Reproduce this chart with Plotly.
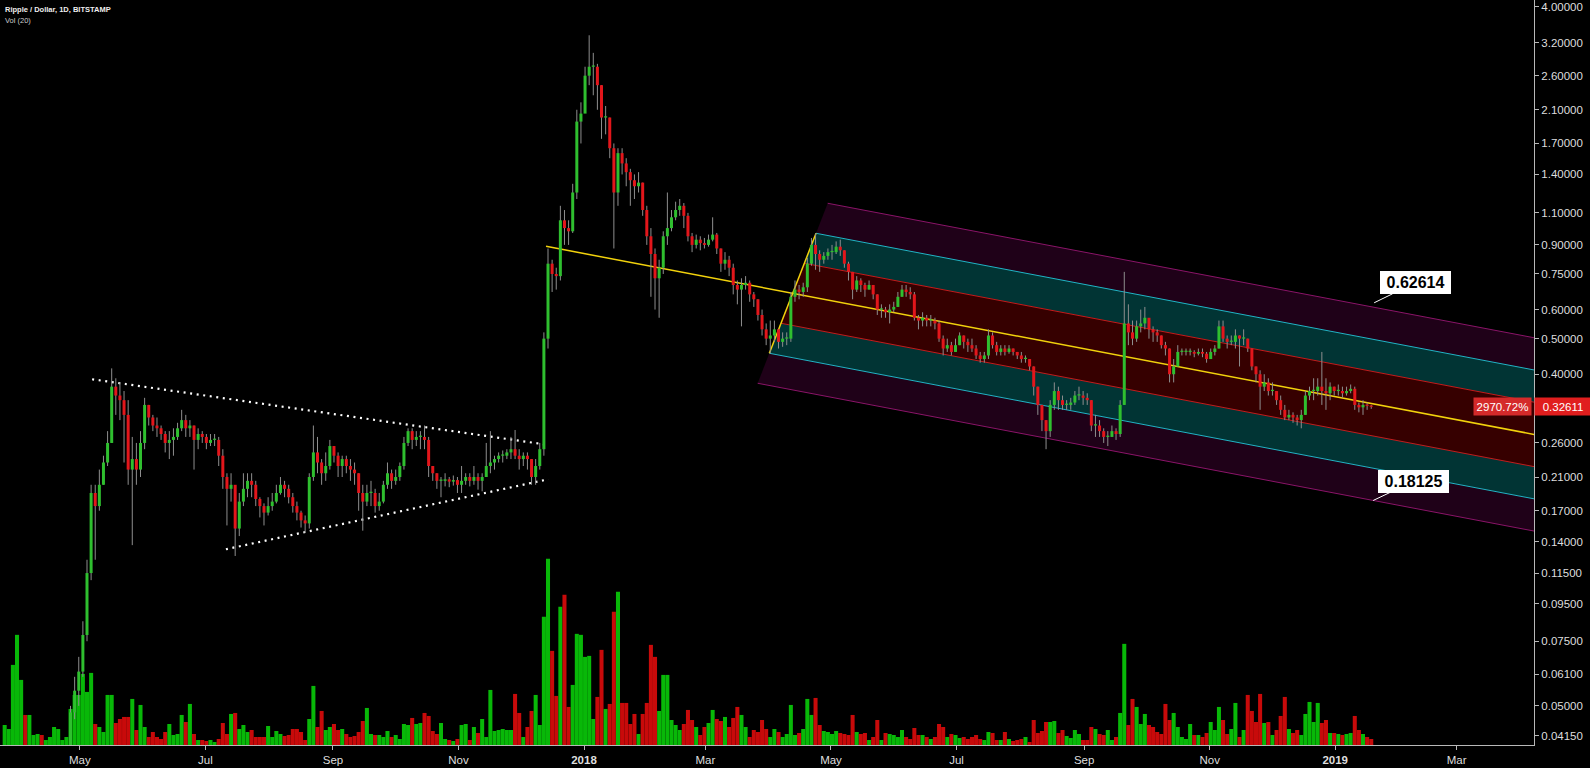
import numpy as np
import pandas as pd
import plotly.graph_objects as go

# ---------------- data (2-day bars) ----------------
bar_start = "2017-03-25"
first_open = 0.01062

close = [
    0.0115, 0.0135, 0.017, 0.021, 0.03, 0.028, 0.029, 0.031, 0.031, 0.030, 0.032, 0.033, 0.034, 0.034, 0.034, 0.036,
    0.048, 0.055, 0.062, 0.078, 0.115,
    0.19, 0.175, 0.20, 0.23, 0.26, 0.37, 0.35, 0.34, 0.31, 0.22,
    0.235, 0.22, 0.26, 0.33, 0.305, 0.29, 0.285, 0.275, 0.26, 0.265,
    0.27, 0.285, 0.30, 0.285, 0.29, 0.265, 0.275, 0.27, 0.26, 0.265,
    0.265, 0.24, 0.21, 0.195, 0.20, 0.152, 0.18, 0.195, 0.205, 0.20,
    0.183, 0.175, 0.168, 0.175, 0.18, 0.19, 0.20, 0.195, 0.185, 0.175,
    0.168, 0.16, 0.157, 0.21, 0.245, 0.23, 0.215, 0.225, 0.255, 0.24,
    0.225, 0.235, 0.225, 0.22, 0.215, 0.19, 0.18, 0.19, 0.19, 0.175,
    0.18, 0.20, 0.215, 0.205, 0.21, 0.225, 0.26, 0.28, 0.265, 0.27,
    0.27, 0.265, 0.225, 0.215, 0.205, 0.205, 0.207, 0.204, 0.206, 0.20,
    0.205, 0.21, 0.205, 0.21, 0.205, 0.21, 0.225, 0.23, 0.235, 0.24,
    0.24, 0.245, 0.25, 0.24, 0.235, 0.24, 0.235, 0.21, 0.225, 0.25,
    0.50, 0.80, 0.75, 0.74, 1.05, 1.0, 0.98, 1.25, 1.95, 2.05,
    2.6, 2.75, 2.75, 2.45, 2.0, 2.0, 1.65, 1.25, 1.6, 1.5,
    1.42, 1.35, 1.3, 1.33, 1.12, 0.95, 0.85, 0.73, 0.78, 0.95,
    1.0, 1.07, 1.12, 1.15, 1.08, 0.95, 0.90, 0.93, 0.91, 0.90,
    0.93, 0.96, 0.88, 0.80, 0.82, 0.78, 0.70, 0.68, 0.70, 0.71,
    0.66, 0.64, 0.58, 0.53, 0.50, 0.51, 0.53, 0.49, 0.50, 0.50, 0.65,
    0.68, 0.67, 0.69, 0.80, 0.90, 0.85, 0.82, 0.84, 0.86,
    0.86, 0.89, 0.87, 0.80, 0.76, 0.68, 0.72, 0.70, 0.68, 0.70, 0.66, 0.60, 0.60, 0.59, 0.60, 0.61,
    0.65, 0.68, 0.67, 0.66, 0.57, 0.56, 0.57, 0.56, 0.56, 0.55, 0.50, 0.47, 0.48, 0.46, 0.48,
    0.51, 0.49, 0.48, 0.47, 0.45, 0.44, 0.45, 0.51, 0.48, 0.46, 0.47, 0.46, 0.47, 0.46, 0.45,
    0.44, 0.44, 0.42, 0.37, 0.33, 0.30, 0.28, 0.33, 0.36, 0.34, 0.33, 0.33, 0.335, 0.35, 0.35, 0.345,
    0.34, 0.29, 0.29, 0.28, 0.27, 0.27, 0.28, 0.275, 0.33, 0.55,
    0.52, 0.50, 0.54, 0.55, 0.57,
    0.53, 0.52, 0.51, 0.48, 0.47, 0.40, 0.42, 0.46, 0.46, 0.46, 0.46, 0.455, 0.46, 0.455, 0.44,
    0.46, 0.47, 0.54, 0.50, 0.49, 0.49, 0.51, 0.50, 0.50, 0.47, 0.42, 0.40, 0.37, 0.38, 0.36,
    0.36, 0.34, 0.32, 0.305, 0.31, 0.305, 0.30, 0.31, 0.35, 0.36, 0.36, 0.37, 0.36, 0.355, 0.37, 0.36,
    0.36, 0.355, 0.36, 0.365, 0.33, 0.325, 0.33, 0.328, 0.32611,
]

high = [
    0.012, 0.014, 0.018, 0.022, 0.035, 0.032, 0.030, 0.033, 0.032, 0.031, 0.033, 0.034, 0.035, 0.035, 0.035, 0.037,
    0.050, 0.060, 0.068, 0.085, 0.125,
    0.20, 0.20, 0.22, 0.24, 0.28, 0.415, 0.39, 0.38, 0.36, 0.34,
    0.27, 0.26, 0.28, 0.345, 0.33, 0.31, 0.305, 0.29, 0.28, 0.28,
    0.285, 0.295, 0.32, 0.31, 0.30, 0.29, 0.285, 0.28, 0.275, 0.275,
    0.275, 0.27, 0.25, 0.215, 0.215, 0.19, 0.19, 0.215, 0.215, 0.215,
    0.205, 0.185, 0.178, 0.185, 0.19, 0.20, 0.21, 0.205, 0.20, 0.19,
    0.18, 0.17, 0.165, 0.215, 0.29, 0.27, 0.235, 0.245, 0.265, 0.255,
    0.245, 0.24, 0.24, 0.235, 0.23, 0.215, 0.20, 0.20, 0.205, 0.195,
    0.19, 0.205, 0.23, 0.22, 0.22, 0.23, 0.27, 0.285, 0.285, 0.28,
    0.28, 0.29, 0.27, 0.225, 0.215, 0.21, 0.215, 0.21, 0.212, 0.21,
    0.225, 0.215, 0.215, 0.225, 0.215, 0.215, 0.26, 0.28, 0.24, 0.245,
    0.248, 0.25, 0.27, 0.282, 0.25, 0.245, 0.245, 0.235, 0.235, 0.26,
    0.52, 0.88, 0.82, 0.78, 1.15, 1.12, 1.05, 1.32, 2.1, 2.2,
    2.75, 3.35, 3.0, 2.8, 2.45, 2.15, 2.0, 1.7, 1.65, 1.65,
    1.55, 1.45, 1.4, 1.42, 1.33, 1.15, 1.0, 0.88, 0.82, 0.98,
    1.25, 1.12, 1.18, 1.2, 1.17, 1.1, 0.97, 0.96, 0.95, 0.94,
    0.96, 1.07, 0.97, 0.88, 0.86, 0.84, 0.80, 0.72, 0.73, 0.74,
    0.72, 0.67, 0.64, 0.60, 0.55, 0.56, 0.56, 0.53, 0.52, 0.52, 0.67,
    0.72, 0.70, 0.71, 0.83, 0.94, 0.968, 0.87, 0.86, 0.88,
    0.90, 0.92, 0.93, 0.87, 0.81, 0.76, 0.74, 0.73, 0.71, 0.72, 0.70, 0.66, 0.62, 0.61, 0.62, 0.63,
    0.67, 0.70, 0.70, 0.69, 0.67, 0.58, 0.59, 0.58, 0.58, 0.57, 0.56, 0.51, 0.50, 0.49, 0.50,
    0.52, 0.51, 0.50, 0.50, 0.48, 0.46, 0.46, 0.53, 0.52, 0.49, 0.48, 0.48, 0.48, 0.47, 0.46,
    0.46, 0.45, 0.44, 0.42, 0.37, 0.33, 0.30, 0.34, 0.38, 0.37, 0.35, 0.34, 0.345, 0.36, 0.37, 0.36,
    0.355, 0.34, 0.31, 0.30, 0.285, 0.28, 0.29, 0.285, 0.34, 0.76,
    0.62, 0.56, 0.56, 0.60, 0.61,
    0.56, 0.54, 0.53, 0.51, 0.49, 0.47, 0.44, 0.48, 0.47, 0.47, 0.47, 0.465, 0.47, 0.47, 0.46,
    0.47, 0.48, 0.56, 0.56, 0.51, 0.51, 0.53, 0.51, 0.53, 0.50, 0.47, 0.42, 0.41, 0.40, 0.39,
    0.38, 0.36, 0.35, 0.33, 0.32, 0.315, 0.31, 0.32, 0.36, 0.37, 0.39, 0.39, 0.46, 0.39, 0.38, 0.37,
    0.375, 0.37, 0.37, 0.375, 0.37, 0.335, 0.34, 0.335, 0.33,
]

low = [
    0.0105, 0.0112, 0.013, 0.016, 0.020, 0.026, 0.027, 0.028, 0.029, 0.029, 0.029, 0.031, 0.032, 0.033, 0.033, 0.033,
    0.035, 0.046, 0.050, 0.060, 0.075,
    0.11, 0.125, 0.17, 0.20, 0.225, 0.26, 0.31, 0.30, 0.23, 0.20,
    0.137, 0.20, 0.21, 0.25, 0.29, 0.28, 0.27, 0.265, 0.245, 0.235,
    0.24, 0.265, 0.28, 0.27, 0.27, 0.22, 0.25, 0.26, 0.25, 0.255,
    0.255, 0.225, 0.195, 0.155, 0.18, 0.128, 0.145, 0.175, 0.185, 0.185,
    0.175, 0.163, 0.155, 0.165, 0.17, 0.178, 0.188, 0.185, 0.178, 0.168,
    0.16, 0.153, 0.148, 0.152, 0.205, 0.215, 0.20, 0.205, 0.22, 0.23,
    0.21, 0.21, 0.215, 0.205, 0.20, 0.17, 0.15, 0.175, 0.175, 0.168,
    0.17, 0.178, 0.195, 0.195, 0.20, 0.205, 0.22, 0.255, 0.25, 0.255,
    0.25, 0.25, 0.21, 0.205, 0.195, 0.185, 0.198, 0.197, 0.199, 0.19,
    0.19, 0.20, 0.198, 0.20, 0.194, 0.192, 0.21, 0.215, 0.22, 0.23,
    0.23, 0.235, 0.235, 0.235, 0.22, 0.225, 0.22, 0.20, 0.20, 0.22,
    0.24, 0.47, 0.67, 0.68, 0.72, 0.90, 0.90, 0.97, 1.2, 1.7,
    2.1, 2.45, 2.3, 2.1, 1.75, 1.8, 1.55, 0.88, 1.15, 1.4,
    1.3, 1.15, 1.2, 1.25, 1.08, 0.90, 0.65, 0.60, 0.57, 0.75,
    0.90, 0.98, 1.05, 1.08, 1.0, 0.92, 0.86, 0.88, 0.87, 0.88,
    0.89, 0.92, 0.85, 0.76, 0.77, 0.74, 0.66, 0.62, 0.54, 0.68,
    0.63, 0.61, 0.56, 0.51, 0.48, 0.456, 0.49, 0.47, 0.475, 0.48, 0.49,
    0.63, 0.64, 0.65, 0.67, 0.79, 0.77, 0.76, 0.80, 0.82,
    0.82, 0.85, 0.84, 0.78, 0.72, 0.64, 0.67, 0.67, 0.65, 0.68, 0.64, 0.58, 0.57, 0.57, 0.55, 0.59,
    0.61, 0.65, 0.65, 0.64, 0.56, 0.53, 0.54, 0.54, 0.54, 0.53, 0.49, 0.45, 0.46, 0.45, 0.46,
    0.48, 0.47, 0.46, 0.46, 0.44, 0.43, 0.43, 0.44, 0.47, 0.45, 0.45, 0.45, 0.455, 0.45, 0.44,
    0.43, 0.43, 0.41, 0.35, 0.31, 0.28, 0.25, 0.27, 0.32, 0.32, 0.32, 0.32, 0.32, 0.33, 0.34, 0.33,
    0.33, 0.28, 0.27, 0.27, 0.26, 0.255, 0.27, 0.265, 0.27, 0.33,
    0.48, 0.48, 0.49, 0.52, 0.53,
    0.50, 0.49, 0.49, 0.47, 0.45, 0.38, 0.38, 0.42, 0.45, 0.45, 0.45, 0.445, 0.45, 0.445, 0.43,
    0.44, 0.45, 0.47, 0.49, 0.47, 0.48, 0.47, 0.42, 0.48, 0.46, 0.41, 0.38, 0.32, 0.36, 0.35,
    0.35, 0.33, 0.31, 0.30, 0.30, 0.295, 0.29, 0.285, 0.31, 0.34, 0.34, 0.35, 0.33, 0.32, 0.34, 0.35,
    0.35, 0.345, 0.35, 0.355, 0.32, 0.315, 0.31, 0.32, 0.322,
]

# volume per 2-day bar (millions XRP, relative reading)
volume = [
    20, 16, 80, 110, 65, 30, 30, 10, 11, 10, 5, 8, 18, 16, 5, 8, 36, 50, 50, 71,
    53, 72, 21, 18, 13, 50, 50, 22, 26, 28, 28, 46, 15, 40, 18, 8, 13, 8, 6, 13,
    21, 10, 11, 30, 23, 41, 11, 5, 5, 4, 5, 3, 6, 22, 11, 31, 32, 16, 20, 13,
    15, 8, 8, 8, 19, 8, 14, 11, 9, 10, 16, 16, 13, 5, 26, 59, 18, 34, 15, 18,
    21, 15, 16, 11, 8, 9, 13, 24, 37, 11, 10, 10, 8, 14, 8, 10, 6, 21, 20, 27,
    21, 22, 32, 29, 14, 11, 22, 6, 5, 4, 6, 20, 21, 5, 18, 12, 26, 8, 55, 14,
    15, 16, 15, 15, 51, 32, 8, 18, 34, 50, 20, 128, 186, 94, 49, 138, 150, 38, 60, 111,
    110, 88, 89, 26, 48, 95, 36, 41, 133, 153, 42, 42, 21, 31, 11, 31, 42, 100, 88, 34,
    70, 70, 25, 20, 15, 21, 35, 25, 18, 10, 18, 22, 35, 26, 24, 28, 18, 27, 38, 30,
    18, 8, 15, 13, 25, 16,
    8, 16, 13, 8, 11, 40, 10, 12, 16, 46, 30, 47, 20, 14, 13, 11, 14, 12, 11, 10,
    30, 13, 11, 12, 5, 8, 25, 5, 12, 11, 10, 8, 15, 8, 6, 17, 10, 10, 8, 6,
    8, 21, 18, 8, 11, 10, 7, 8, 6, 8, 10, 6, 5, 13, 12, 5, 5, 13, 6, 4,
    5, 6, 8, 3, 25, 12, 14, 23, 23, 24, 12, 15, 9, 7, 15, 11, 5, 5, 18, 16,
    11, 10, 15, 5, 8, 32, 101, 20, 46, 38, 21, 31, 20, 18, 13, 11, 41, 25, 32, 18,
    8, 6, 21, 10, 10, 8, 12, 23, 15, 38, 25, 11, 16, 42, 8, 15, 50, 34, 23, 51,
    22, 23, 10, 15, 29, 48, 16, 12, 15, 10, 31, 43, 23, 42, 22, 25, 12, 12, 11, 10,
    11, 12, 29, 15, 11, 8, 6,
]

ytick_vals = [4.0, 3.2, 2.6, 2.1, 1.7, 1.4, 1.1, 0.9, 0.75, 0.6, 0.5, 0.4, 0.26, 0.21,
              0.17, 0.14, 0.115, 0.095, 0.075, 0.061, 0.05, 0.0415]
xtick_dates = ["2017-05-01", "2017-07-01", "2017-09-01", "2017-11-01", "2018-01-01", "2018-03-01",
               "2018-05-01", "2018-07-01", "2018-09-01", "2018-11-01", "2019-01-01", "2019-03-01"]
xtick_labels = ["May", "Jul", "Sep", "Nov", "<b>2018</b>", "Mar",
                "May", "Jul", "Sep", "Nov", "<b>2019</b>", "Mar"]

tri_upper_dates = ["2017-05-07 00:00", "2017-12-14 17:00"]
tri_upper_prices = [0.3876, 0.2568]
tri_lower_dates = ["2017-07-11 00:00", "2017-12-14 17:00"]
tri_lower_prices = [0.1335, 0.2071]

fork_dates = ["2017-12-13 13:00", "2018-04-01 01:00", "2018-04-23 17:30"]
fork_prices = [0.892, 0.4562, 0.968]
fork_levels = [1.5, 1.0, 0.5, -0.5, -1.0, -1.5]

callout_dates = ["2019-01-19 22:00", "2019-01-19 10:00"]
callout_prices = [0.62614, 0.18125]

x_range = ["2017-03-23 05:30", "2019-04-07 14:00"]
y_range_price = [0.03913, 4.179]

# ---------------- styling ----------------
BG = "#000000"
UP_BODY, DN_BODY = "#2fbf2f", "#e3161b"
UP_VOL, DN_VOL = "#08b808", "#c80a0a"
WICK = "#8e8e8e"
AX = "#b8b8b8"
TXT = "#dedede"
FONT = "Liberation Sans"

n = len(close)
dates = pd.date_range(bar_start, periods=n, freq="2D") + pd.Timedelta(hours=12)
opens = [first_open] + close[:-1]
up = [c >= o for o, c in zip(opens, close)]

fig = go.Figure()

# volume (base axis, hidden)
fig.add_trace(go.Bar(
    x=dates[-len(volume):], y=volume, yaxis="y", xaxis="x",
    width=2 * 86400000 * 0.98,
    marker=dict(color=[UP_VOL if u else DN_VOL for u in up[-len(volume):]], line=dict(width=0)),
    hoverinfo="skip", showlegend=False))

# pitchfork in (days, log10 price) space
def to_days(s):
    return (pd.Timestamp(s) - pd.Timestamp("1970-01-01")) / pd.Timedelta(days=1)

def from_days(d):
    return pd.Timestamp("1970-01-01") + pd.Timedelta(days=float(d))

A = np.array([to_days(fork_dates[0]), np.log10(fork_prices[0])])
B = np.array([to_days(fork_dates[1]), np.log10(fork_prices[1])])
C = np.array([to_days(fork_dates[2]), np.log10(fork_prices[2])])
M = (B + C) / 2
H = (C - B) / 2
dvec = M - A
t_end = to_days(x_range[1]) + 2

def level_pts(f):
    s = M + f * H
    e = s + dvec * (t_end - s[0]) / dvec[0]
    return s, e

band_fill = {(1.5, 1.0): "#1f0118", (1.0, 0.5): "#013434", (0.5, -0.5): "#360000",
             (-0.5, -1.0): "#013434", (-1.0, -1.5): "#1f0118"}
for (fa, fb), col in band_fill.items():
    sa, ea = level_pts(fa)
    sb, eb = level_pts(fb)
    pts = [sa, ea, eb, sb, sa]
    fig.add_trace(go.Scatter(
        x=[from_days(p[0]) for p in pts], y=[10 ** p[1] for p in pts], yaxis="y2",
        mode="lines", fill="toself", fillcolor=col, line=dict(width=0),
        hoverinfo="skip", showlegend=False))

level_color = {1.5: "#8a1468", 1.0: "#22b4c6", 0.5: "#c41c1c",
               -0.5: "#c41c1c", -1.0: "#22b4c6", -1.5: "#8a1468"}
for f in fork_levels:
    s, e = level_pts(f)
    fig.add_trace(go.Scatter(
        x=[from_days(s[0]), from_days(e[0])], y=[10 ** s[1], 10 ** e[1]], yaxis="y2",
        mode="lines", line=dict(color=level_color[f], width=1),
        hoverinfo="skip", showlegend=False))

# median and handle
e_med = A + dvec * (t_end - A[0]) / dvec[0]
fig.add_trace(go.Scatter(
    x=[from_days(A[0]), from_days(e_med[0])], y=[10 ** A[1], 10 ** e_med[1]], yaxis="y2",
    mode="lines", line=dict(color="#f2d20c", width=1.5), hoverinfo="skip", showlegend=False))
fig.add_trace(go.Scatter(
    x=[fork_dates[1], fork_dates[2]], y=[fork_prices[1], fork_prices[2]], yaxis="y2",
    mode="lines", line=dict(color="#f2d20c", width=1.5), hoverinfo="skip", showlegend=False))

# triangle
for dts, prs in ((tri_upper_dates, tri_upper_prices), (tri_lower_dates, tri_lower_prices)):
    fig.add_trace(go.Scatter(
        x=dts, y=prs, yaxis="y2", mode="lines",
        line=dict(color="#ffffff", width=2.2, dash="2px,4.6px"),
        hoverinfo="skip", showlegend=False))

# wicks
wx, wy = [], []
for d, h, l in zip(dates, high, low):
    wx += [d, d, None]
    wy += [l, h, None]
fig.add_trace(go.Scatter(x=wx, y=wy, yaxis="y2", mode="lines",
                         line=dict(color=WICK, width=1), hoverinfo="skip", showlegend=False))

# bodies (thick vertical segments so they sit above the channel fills)
for want_up, col in ((True, UP_BODY), (False, DN_BODY)):
    bx, by = [], []
    for d, o, c, u in zip(dates, opens, close, up):
        if u != want_up:
            continue
        lo, hi = min(o, c), max(o, c)
        hi = max(hi, lo * 1.008)
        bx += [d, d, None]
        by += [lo, hi, None]
    fig.add_trace(go.Scatter(x=bx, y=by, yaxis="y2", mode="lines",
                             line=dict(color=col, width=3), hoverinfo="skip", showlegend=False))

# ---------------- annotations ----------------
ann = []
for d, p, ax_, ay_ in zip(callout_dates, callout_prices, [41, 40], [-20, -19]):
    ann.append(dict(
        x=d, y=np.log10(p), xref="x", yref="y2", text=f"<b>{p:.5f}</b>",
        showarrow=True, arrowhead=0, arrowwidth=1, arrowcolor="#ffffff", ax=ax_, ay=ay_,
        bgcolor="#ffffff", bordercolor="#ffffff", borderwidth=1, borderpad=1,
        width=67, height=19, font=dict(family=FONT, size=16, color="#000000")))

last = close[-1]
pct = (last / first_open - 1) * 100
ann.append(dict(
    x=1, xref="paper", xanchor="left", y=np.log10(last), yref="y2", yanchor="middle",
    text=f"{last:.5f}", showarrow=False, bgcolor="#e01e1e", width=56, height=17, borderpad=0,
    font=dict(family=FONT, size=11.5, color="#ffffff")))
ann.append(dict(
    x=1, xref="paper", xanchor="right", xshift=-2, y=np.log10(last), yref="y2", yanchor="middle",
    text=f"{pct:.2f}%", showarrow=False, bgcolor="#d42a2a", width=57, height=17, borderpad=0,
    font=dict(family=FONT, size=11.5, color="#ffffff")))

ann.append(dict(
    x=0, xref="paper", xanchor="left", xshift=3, y=1, yref="paper", yanchor="top", yshift=-3,
    text="<b>Ripple / Dollar, 1D, BITSTAMP</b>", showarrow=False,
    font=dict(family=FONT, size=7.5, color="#eeeeee")))
ann.append(dict(
    x=0, xref="paper", xanchor="left", xshift=3, y=1, yref="paper", yanchor="top", yshift=-14,
    text="Vol (20)", showarrow=False, font=dict(family=FONT, size=7.5, color="#cccccc")))

fig.update_layout(
    width=1590, height=768,
    margin=dict(l=0, r=56, t=0, b=23),
    paper_bgcolor=BG, plot_bgcolor=BG,
    showlegend=False,
    xaxis=dict(type="date", range=x_range, tickvals=xtick_dates, ticktext=xtick_labels,
               ticks="outside", ticklen=4, tickcolor=AX, showline=True, linecolor=AX,
               linewidth=1, showgrid=False, zeroline=False,
               tickfont=dict(family=FONT, size=11.5, color=TXT), anchor="y"),
    yaxis=dict(range=[0, max(volume) * 4.0], visible=False, fixedrange=True),
    yaxis2=dict(type="log", overlaying="y", side="right", anchor="x",
                range=[np.log10(y_range_price[0]), np.log10(y_range_price[1])],
                tickvals=ytick_vals, ticktext=[f"{v:.5f}" for v in ytick_vals],
                ticks="outside", ticklen=4, tickcolor=AX, showline=True, linecolor=AX,
                linewidth=1, showgrid=False, zeroline=False,
                tickfont=dict(family=FONT, size=11.5, color=TXT)),
    annotations=ann,
)

fig.write_html(
    "out.html",
    config={"displayModeBar": False},
    post_script="document.body.style.margin='0';document.body.style.overflow='hidden';"
                "document.body.style.background='#000';",
)
